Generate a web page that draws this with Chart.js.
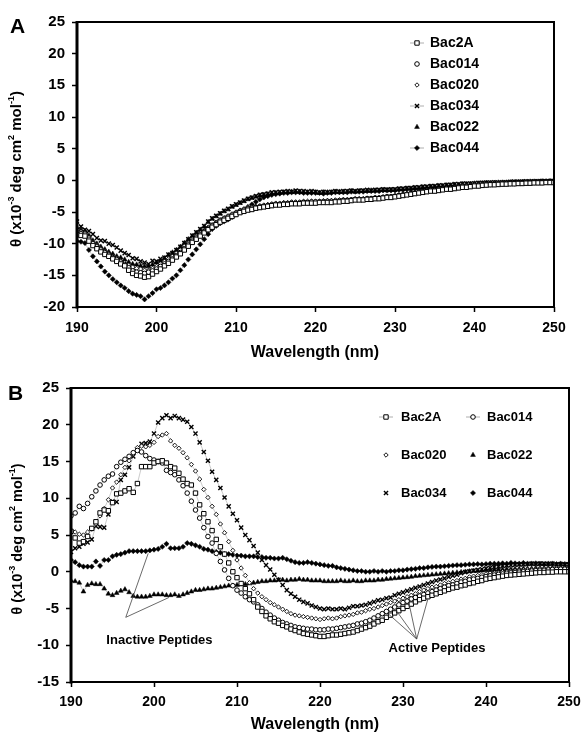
<!DOCTYPE html>
<html>
<head>
<meta charset="utf-8">
<script src="https://cdn.jsdelivr.net/npm/chart.js@4.4.1/dist/chart.umd.min.js"></script>
<style>
  body { margin: 0; background: #fff; }
  #wrap { position: relative; width: 582px; height: 732px; }
  canvas { position: absolute; left: 0; }
  #canvasA { top: 0; }
  #canvasB { top: 368px; }
</style>
</head>
<body>
<div id="wrap">
  <canvas id="canvasA" width="582" height="368"></canvas>
  <canvas id="canvasB" width="582" height="364"></canvas>
</div>
<script>
const FONT = "'Liberation Sans', Arial, Helvetica, sans-serif";

const wavelengths = [
  190, 190.5, 191, 191.5, 192, 192.5, 193, 193.5, 194, 194.5,
  195, 195.5, 196, 196.5, 197, 197.5, 198, 198.5, 199, 199.5,
  200, 200.5, 201, 201.5, 202, 202.5, 203, 203.5, 204, 204.5,
  205, 205.5, 206, 206.5, 207, 207.5, 208, 208.5, 209, 209.5,
  210, 210.5, 211, 211.5, 212, 212.5, 213, 213.5, 214, 214.5,
  215, 215.5, 216, 216.5, 217, 217.5, 218, 218.5, 219, 219.5,
  220, 220.5, 221, 221.5, 222, 222.5, 223, 223.5, 224, 224.5,
  225, 225.5, 226, 226.5, 227, 227.5, 228, 228.5, 229, 229.5,
  230, 230.5, 231, 231.5, 232, 232.5, 233, 233.5, 234, 234.5,
  235, 235.5, 236, 236.5, 237, 237.5, 238, 238.5, 239, 239.5,
  240, 240.5, 241, 241.5, 242, 242.5, 243, 243.5, 244, 244.5,
  245, 245.5, 246, 246.5, 247, 247.5, 248, 248.5, 249, 249.5,
  250
];

const xTicks = [190, 200, 210, 220, 230, 240, 250];
const yTicksA = [-20, -15, -10, -5, 0, 5, 10, 15, 20, 25];
const yTicksB = [-15, -10, -5, 0, 5, 10, 15, 20, 25];

const peptides = ["Bac2A", "Bac014", "Bac020", "Bac034", "Bac022", "Bac044"];

// panel A
const a2A = [
  -8.6, -8.7, -8.8, -9.6, -10.3, -10.8, -11.3, -11.7, -12.0, -12.4,
  -12.8, -13.2, -13.5, -14.2, -14.7, -15.0, -15.1, -15.3, -15.2, -14.8,
  -14.4, -14.0, -13.5, -13.1, -12.6, -12.1, -11.6, -11.0, -10.4, -9.8,
  -9.3, -8.8, -8.3, -7.8, -7.4, -7.0, -6.6, -6.3, -6.0, -5.7,
  -5.4, -5.1, -4.9, -4.7, -4.6, -4.4, -4.3, -4.2, -4.1, -4.0,
  -3.9, -3.9, -3.8, -3.8, -3.7, -3.7, -3.7, -3.6, -3.6, -3.6,
  -3.6, -3.5, -3.5, -3.5, -3.5, -3.4, -3.4, -3.3, -3.3, -3.2,
  -3.1, -3.1, -3.1, -3.0, -3.0, -2.9, -2.9, -2.8, -2.7, -2.7,
  -2.6, -2.5, -2.4, -2.3, -2.2, -2.1, -2.0, -1.9, -1.8, -1.7,
  -1.7, -1.6, -1.5, -1.4, -1.4, -1.3, -1.2, -1.1, -1.1, -1.0,
  -0.9, -0.9, -0.8, -0.75, -0.7, -0.7, -0.65, -0.6, -0.6, -0.55,
  -0.55, -0.5, -0.5, -0.45, -0.45, -0.4, -0.4, -0.4, -0.35, -0.35,
  -0.35
];
const a014 = [
  -8.3, -8.4, -8.5, -9.3, -10.0, -10.5, -11.0, -11.4, -11.8, -12.2,
  -12.5, -12.9, -13.3, -13.8, -14.3, -14.5, -14.6, -14.7, -14.5, -14.3,
  -14.0, -13.6, -13.2, -12.8, -12.4, -11.9, -11.4, -10.8, -10.2, -9.6,
  -9.1, -8.6, -8.1, -7.6, -7.2, -6.8, -6.4, -6.1, -5.8, -5.5,
  -5.2, -4.9, -4.7, -4.5, -4.4, -4.3, -4.2, -4.1, -4.0, -3.9,
  -3.8, -3.8, -3.7, -3.7, -3.6, -3.6, -3.6, -3.5, -3.5, -3.4,
  -3.4, -3.4, -3.4, -3.3, -3.3, -3.3, -3.2, -3.2, -3.2, -3.1,
  -3.0, -3.0, -3.0, -2.9, -2.9, -2.8, -2.8, -2.7, -2.6, -2.6,
  -2.5, -2.4, -2.3, -2.2, -2.1, -2.0, -1.9, -1.8, -1.7, -1.6,
  -1.6, -1.5, -1.4, -1.3, -1.3, -1.2, -1.1, -1.0, -1.0, -0.9,
  -0.8, -0.8, -0.7, -0.7, -0.65, -0.6, -0.55, -0.55, -0.5, -0.5,
  -0.5, -0.45, -0.45, -0.4, -0.4, -0.35, -0.35, -0.35, -0.3, -0.3,
  -0.3
];
const a020 = [
  -8.0, -8.1, -8.3, -9.0, -9.8, -10.3, -10.8, -11.2, -11.6, -12.0,
  -12.3, -12.7, -13.0, -13.4, -13.7, -13.9, -14.0, -14.2, -14.2, -13.9,
  -13.6, -13.2, -12.8, -12.4, -12.0, -11.5, -11.0, -10.4, -9.9, -9.3,
  -8.8, -8.3, -7.9, -7.4, -7.0, -6.6, -6.2, -5.9, -5.6, -5.3,
  -5.0, -4.7, -4.5, -4.3, -4.2, -4.1, -4.0, -3.9, -3.8, -3.7,
  -3.6, -3.6, -3.5, -3.5, -3.4, -3.4, -3.4, -3.3, -3.3, -3.3,
  -3.3, -3.3, -3.2, -3.2, -3.2, -3.1, -3.1, -3.0, -3.0, -3.0,
  -2.9, -2.9, -2.9, -2.8, -2.8, -2.7, -2.7, -2.6, -2.5, -2.5,
  -2.4, -2.3, -2.2, -2.1, -2.0, -1.9, -1.8, -1.7, -1.6, -1.5,
  -1.5, -1.4, -1.3, -1.2, -1.2, -1.1, -1.0, -0.9, -0.9, -0.8,
  -0.7, -0.7, -0.65, -0.6, -0.55, -0.5, -0.5, -0.45, -0.45, -0.4,
  -0.4, -0.4, -0.4, -0.35, -0.35, -0.3, -0.3, -0.3, -0.25, -0.25,
  -0.25
];
const a034 = [
  -6.5, -7.3, -7.8, -8.0, -8.5, -9.1, -9.5, -9.6, -10.0, -10.2,
  -10.6, -11.1, -11.5, -11.8, -12.3, -12.4, -12.8, -13.0, -13.2, -12.7,
  -12.8, -12.4, -12.2, -11.7, -11.5, -11.0, -10.5, -9.9, -9.3, -8.7,
  -8.2, -7.7, -7.2, -6.5, -6.0, -5.6, -5.2, -4.8, -4.5, -4.1,
  -3.8, -3.5, -3.2, -2.9, -2.7, -2.5, -2.3, -2.2, -2.1, -1.9,
  -1.9, -1.8, -1.8, -1.7, -1.8, -1.6, -1.7, -1.7, -1.8, -1.7,
  -1.8, -1.9, -1.8, -1.9, -1.8, -1.7, -1.8, -1.7, -1.7, -1.6,
  -1.7, -1.6, -1.6, -1.5, -1.6, -1.5, -1.5, -1.4, -1.5, -1.4,
  -1.4, -1.3, -1.3, -1.2, -1.2, -1.1, -1.1, -1.0, -1.0, -0.9,
  -0.9, -0.8, -0.8, -0.7, -0.7, -0.6, -0.6, -0.5, -0.5, -0.5,
  -0.45, -0.4, -0.4, -0.35, -0.35, -0.3, -0.35, -0.3, -0.3, -0.25,
  -0.2, -0.25, -0.2, -0.15, -0.2, -0.15, -0.15, -0.1, -0.15, -0.1,
  -0.1
];
const a022 = [
  -7.5, -7.8, -8.0, -8.7, -9.5, -10.0, -10.5, -10.9, -11.3, -11.6,
  -12.0, -12.2, -12.5, -12.9, -13.2, -13.3, -13.5, -13.6, -13.6, -13.3,
  -13.0, -12.7, -12.3, -11.8, -11.4, -11.0, -10.5, -9.9, -9.3, -8.8,
  -8.3, -7.8, -7.3, -6.6, -6.1, -5.7, -5.3, -4.9, -4.6, -4.2,
  -3.9, -3.6, -3.3, -3.0, -2.8, -2.6, -2.4, -2.3, -2.2, -2.1,
  -2.0, -2.0, -1.9, -1.9, -1.8, -1.8, -1.8, -1.9, -1.9, -1.9,
  -1.9, -2.0, -1.9, -1.9, -1.9, -1.8, -1.8, -1.8, -1.8, -1.7,
  -1.8, -1.7, -1.7, -1.7, -1.6, -1.6, -1.6, -1.5, -1.5, -1.5,
  -1.5, -1.4, -1.4, -1.3, -1.3, -1.2, -1.2, -1.1, -1.1, -1.0,
  -1.0, -0.9, -0.9, -0.8, -0.8, -0.7, -0.7, -0.6, -0.6, -0.55,
  -0.5, -0.5, -0.45, -0.4, -0.4, -0.4, -0.35, -0.35, -0.35, -0.3,
  -0.3, -0.25, -0.25, -0.25, -0.2, -0.2, -0.2, -0.15, -0.15, -0.1,
  -0.1
];
const a044 = [
  -9.6, -9.7, -9.9, -11.0, -12.0, -12.8, -13.6, -14.4, -15.0, -15.6,
  -16.1, -16.6, -17.0, -17.5, -17.9, -18.1, -18.3, -18.8, -18.3, -17.8,
  -17.2, -17.0, -16.6, -16.1, -15.5, -15.0, -14.2, -13.4, -12.5, -11.7,
  -10.9, -10.1, -9.3, -8.5, -7.7, -7.2, -6.8, -6.5, -6.2, -5.8,
  -5.4, -5.0, -4.6, -4.2, -3.8, -3.4, -3.0, -2.7, -2.5, -2.3,
  -2.2, -2.1, -2.0, -2.0, -1.9, -1.9, -1.9, -2.0, -2.0, -2.0,
  -2.0, -2.0, -2.1, -2.0, -2.0, -1.9, -1.9, -1.9, -1.9, -1.8,
  -1.8, -1.8, -1.8, -1.7, -1.7, -1.7, -1.7, -1.6, -1.6, -1.6,
  -1.6, -1.5, -1.5, -1.4, -1.4, -1.3, -1.3, -1.2, -1.2, -1.1,
  -1.1, -1.0, -1.0, -0.9, -0.9, -0.8, -0.8, -0.7, -0.7, -0.65,
  -0.6, -0.55, -0.55, -0.5, -0.5, -0.45, -0.45, -0.4, -0.4, -0.4,
  -0.35, -0.35, -0.3, -0.3, -0.25, -0.25, -0.25, -0.2, -0.2, -0.2,
  -0.15
];

// panel B
const b2A = [
  5.5, 4.6, 3.9, 4.1, 4.8, 5.9, 6.8, 8.0, 8.4, 8.3,
  9.4, 10.6, 10.7, 11.0, 11.3, 10.8, 12.0, 14.3, 14.3, 14.3,
  14.8, 15.0, 15.1, 14.8, 14.3, 14.1, 13.4, 12.6, 12.0, 11.8,
  10.7, 9.1, 7.9, 6.8, 5.6, 4.4, 3.4, 2.4, 1.2, 0.0,
  -0.8, -1.6, -2.3, -3.0, -3.8, -4.8, -5.4, -6.0, -6.4, -6.8,
  -7.0, -7.3, -7.5, -7.8, -8.0, -8.2, -8.4, -8.5, -8.6, -8.7,
  -8.8, -8.8, -8.7, -8.6, -8.6, -8.5, -8.4, -8.3, -8.2, -8.0,
  -7.8, -7.6, -7.4, -7.1, -6.8, -6.6, -6.2, -5.9, -5.6, -5.3,
  -5.0, -4.7, -4.4, -4.1, -3.8, -3.6, -3.4, -3.2, -3.0, -2.8,
  -2.6, -2.4, -2.2, -2.1, -1.9, -1.8, -1.6, -1.5, -1.3, -1.2,
  -1.0, -0.9, -0.8, -0.7, -0.6, -0.5, -0.45, -0.4, -0.35, -0.3,
  -0.25, -0.2, -0.15, -0.1, -0.1, -0.05, -0.05, 0.0, 0.0, 0.0,
  0.0
];
const b014 = [
  7.6, 8.0, 8.9, 8.6, 9.3, 10.2, 11.0, 11.8, 12.5, 13.0,
  13.3, 14.3, 14.9, 15.3, 15.7, 16.2, 16.5, 16.3, 15.8, 15.4,
  15.2, 15.0, 14.8, 13.8, 13.5, 13.2, 12.5, 11.7, 10.7, 9.6,
  8.4, 7.3, 6.0, 4.8, 3.9, 2.5, 1.4, 0.25, -0.9, -1.9,
  -2.5, -2.9, -3.4, -3.8, -4.1, -4.5, -5.0, -5.5, -5.9, -6.3,
  -6.6, -6.9, -7.1, -7.3, -7.5, -7.6, -7.7, -7.8, -7.8, -7.9,
  -7.9, -7.9, -7.8, -7.8, -7.7, -7.6, -7.5, -7.4, -7.3, -7.1,
  -7.0, -6.8, -6.6, -6.3, -6.0, -5.7, -5.4, -5.1, -4.8, -4.5,
  -4.2, -4.0, -3.7, -3.5, -3.3, -3.1, -2.9, -2.7, -2.5, -2.3,
  -2.1, -1.9, -1.8, -1.6, -1.4, -1.3, -1.1, -1.0, -0.9, -0.75,
  -0.65, -0.55, -0.45, -0.35, -0.3, -0.2, -0.15, -0.1, -0.05, 0.0,
  0.05, 0.1, 0.15, 0.2, 0.2, 0.25, 0.3, 0.3, 0.35, 0.35,
  0.4
];
const b020 = [
  5.6, 5.4, 5.1, 5.0, 5.4, 5.8, 6.5, 7.6, 8.6, 9.8,
  11.4, 12.2, 13.2, 14.2, 15.1, 16.0, 16.9, 17.1, 17.0, 17.2,
  17.6, 18.4, 18.6, 18.8, 17.8, 17.2, 16.8, 16.2, 15.5, 14.6,
  13.7, 12.6, 11.2, 10.1, 8.9, 7.8, 6.5, 5.3, 4.1, 2.9,
  1.6, 0.5, -0.5, -1.5, -2.3, -2.9, -3.4, -3.8, -4.2, -4.5,
  -4.8, -5.1, -5.4, -5.7, -5.9, -6.0, -6.1, -6.2, -6.3, -6.4,
  -6.5, -6.4, -6.3, -6.4, -6.3, -6.1, -6.0, -5.9, -5.8, -5.6,
  -5.5, -5.3, -5.1, -5.0, -4.8, -4.6, -4.4, -4.2, -4.0, -3.8,
  -3.6, -3.4, -3.2, -3.0, -2.7, -2.5, -2.3, -2.1, -2.0, -1.8,
  -1.6, -1.5, -1.3, -1.2, -1.0, -0.9, -0.7, -0.6, -0.5, -0.4,
  -0.3, -0.2, -0.15, -0.1, 0.0, 0.05, 0.1, 0.15, 0.2, 0.25,
  0.3, 0.3, 0.35, 0.4, 0.4, 0.45, 0.45, 0.5, 0.5, 0.5,
  0.5
];
const b034 = [
  2.7, 3.2, 3.4, 3.8, 4.0, 4.4, 6.2, 6.1, 6.0, 7.8,
  9.6, 9.5, 12.5, 13.2, 14.2, 15.7, 16.6, 17.4, 17.5, 17.7,
  18.8, 20.3, 20.9, 21.3, 20.9, 21.2, 20.9, 20.7, 20.4, 19.7,
  18.8, 17.6, 16.3, 15.1, 13.6, 12.5, 11.4, 10.1, 8.9, 7.9,
  7.0, 6.0, 5.0, 4.3, 3.5, 2.6, 1.6, 0.9, 0.3, -0.4,
  -1.1, -1.8, -2.5, -3.0, -3.4, -3.8, -4.1, -4.3, -4.6, -4.8,
  -5.0, -5.1, -5.0, -5.1, -5.1, -5.0, -5.1, -4.9, -4.7, -4.7,
  -4.6, -4.5, -4.3, -4.1, -3.9, -3.8, -3.6, -3.5, -3.2, -3.0,
  -2.8, -2.6, -2.4, -2.2, -2.0, -1.8, -1.6, -1.4, -1.2, -1.05,
  -0.9, -0.7, -0.55, -0.4, -0.2, -0.05, 0.05, 0.15, 0.25, 0.35,
  0.45, 0.55, 0.65, 0.7, 0.8, 0.85, 0.9, 0.95, 1.0, 1.0,
  1.05, 1.1, 1.05, 1.1, 1.1, 1.05, 1.1, 1.0, 1.05, 1.0,
  1.0
];
const b022 = [
  -1.2, -1.3, -1.5, -2.7, -1.8, -1.6, -1.7, -1.7, -2.3, -3.0,
  -3.2, -2.9, -2.6, -2.4, -2.8, -3.3, -3.4, -3.4, -3.4, -3.3,
  -3.1, -3.1, -3.1, -3.2, -3.2, -3.1, -3.3, -3.1, -2.9, -2.7,
  -2.5, -2.5, -2.4, -2.3, -2.3, -2.2, -2.1, -2.0, -1.9, -1.9,
  -1.8, -1.7, -1.7, -1.6, -1.5, -1.4, -1.3, -1.3, -1.2, -1.2,
  -1.1, -1.1, -1.2, -1.1, -1.1, -1.0, -1.1, -1.1, -1.2, -1.2,
  -1.2, -1.3, -1.3, -1.3, -1.3, -1.2, -1.3, -1.3, -1.2, -1.3,
  -1.3, -1.2, -1.2, -1.2, -1.1, -1.1, -1.0, -0.95, -0.9, -0.85,
  -0.8, -0.75, -0.7, -0.6, -0.55, -0.5, -0.45, -0.4, -0.35, -0.3,
  -0.25, -0.2, -0.15, -0.1, -0.05, 0.0, 0.05, 0.1, 0.1, 0.15,
  0.2, 0.2, 0.25, 0.3, 0.3, 0.35, 0.35, 0.4, 0.4, 0.45,
  0.45, 0.45, 0.5, 0.5, 0.5, 0.5, 0.55, 0.5, 0.55, 0.5,
  0.5
];
const b044 = [
  1.6, 1.3, 0.9, 0.7, 0.7, 0.7, 1.4, 0.8, 1.6, 1.6,
  2.1, 2.3, 2.4, 2.6, 2.8, 2.8, 2.8, 2.8, 2.8, 2.9,
  3.0, 3.1, 3.4, 3.8, 3.2, 3.2, 3.2, 3.4, 3.9, 3.8,
  3.6, 3.4, 3.1, 3.0, 2.8, 2.7, 2.6, 2.4, 2.4, 2.3,
  2.2, 2.2, 2.1, 2.1, 2.1, 2.0, 2.0, 1.9, 1.9, 1.8,
  1.8, 1.9, 1.7, 1.5, 1.3, 1.2, 1.2, 1.3, 1.2, 1.1,
  1.0, 0.9, 0.8, 0.8, 0.6, 0.5, 0.4, 0.3, 0.2, 0.1,
  0.1, 0.0, 0.0, 0.1, 0.0, 0.1, 0.0, 0.1, 0.1, 0.2,
  0.2, 0.3, 0.35, 0.4, 0.5, 0.5, 0.6, 0.65, 0.7, 0.7,
  0.75, 0.8, 0.85, 0.9, 0.9, 0.95, 1.0, 1.0, 1.05, 1.0,
  1.05, 1.1, 1.1, 1.1, 1.15, 1.1, 1.2, 1.15, 1.1, 1.2,
  1.1, 1.1, 1.15, 1.1, 1.05, 1.1, 1.1, 1.05, 1.1, 1.05,
  1.1
];

const seriesA = [a2A, a014, a020, a034, a022, a044];
const seriesB = [b2A, b014, b020, b034, b022, b044];

const markers = {
  Bac2A: { shape: "rect", r: 3.1, bg: "#fff", bw: 1 },
  Bac014: { shape: "circle", r: 2.3, bg: "#fff", bw: 1 },
  Bac020: { shape: "rectRot", r: 2.2, bg: "#fff", bw: 0.9 },
  Bac034: { shape: "crossRot", r: 2.9, bg: "#000", bw: 1.4 },
  Bac022: { shape: "triangle", r: 2.8, bg: "#000", bw: 0.5 },
  Bac044: { shape: "rectRot", r: 2.6, bg: "#000", bw: 0.5 }
};

function drawMarker(ctx, name, x, y) {
  const m = markers[name];
  const r = m.r;
  ctx.save();
  ctx.lineWidth = m.bw;
  ctx.strokeStyle = "#000";
  ctx.fillStyle = m.bg;
  ctx.beginPath();
  if (m.shape === "rect") {
    const s = r * Math.SQRT1_2;
    ctx.rect(x - s, y - s, 2 * s, 2 * s);
    ctx.fill(); ctx.stroke();
  } else if (m.shape === "circle") {
    ctx.arc(x, y, r, 0, Math.PI * 2);
    ctx.fill(); ctx.stroke();
  } else if (m.shape === "rectRot") {
    ctx.moveTo(x, y - r); ctx.lineTo(x + r, y); ctx.lineTo(x, y + r); ctx.lineTo(x - r, y);
    ctx.closePath();
    ctx.fill(); ctx.stroke();
  } else if (m.shape === "triangle") {
    ctx.moveTo(x, y - r);
    ctx.lineTo(x + r * 0.866, y + r * 0.5);
    ctx.lineTo(x - r * 0.866, y + r * 0.5);
    ctx.closePath();
    ctx.fill(); ctx.stroke();
  } else {
    const d = r * Math.SQRT1_2;
    ctx.moveTo(x - d, y - d); ctx.lineTo(x + d, y + d);
    ctx.moveTo(x + d, y - d); ctx.lineTo(x - d, y + d);
    ctx.stroke();
  }
  ctx.restore();
}

function drawYTitle(ctx, cx, cy, size) {
  const parts = [["θ (x10", false], ["-3", true], [" deg cm", false], ["2", true], [" mol", false], ["-1", true], [")", false]];
  const big = "bold " + size + "px " + FONT;
  const small = "bold " + Math.round(size * 0.62) + "px " + FONT;
  let total = 0;
  parts.forEach(p => { ctx.font = p[1] ? small : big; total += ctx.measureText(p[0]).width; });
  ctx.save();
  ctx.translate(cx, cy);
  ctx.rotate(-Math.PI / 2);
  ctx.textAlign = "left";
  ctx.textBaseline = "middle";
  let x = -total / 2;
  parts.forEach(p => {
    ctx.font = p[1] ? small : big;
    ctx.fillText(p[0], x, p[1] ? -size * 0.38 : 0);
    x += ctx.measureText(p[0]).width;
  });
  ctx.restore();
}

const decor = {
  id: "decor",
  afterDraw(chart, args, o) {
    const ctx = chart.ctx;
    const area = chart.chartArea;
    const sx = chart.scales.x, sy = chart.scales.y;
    ctx.save();
    ctx.strokeStyle = "#000";
    ctx.lineWidth = 2;
    ctx.strokeRect(area.left, area.top, area.right - area.left, area.bottom - area.top);
    ctx.lineWidth = 3;
    ctx.beginPath();
    ctx.moveTo(area.left, area.top - 1);
    ctx.lineTo(area.left, area.bottom + 1.5);
    ctx.stroke();

    ctx.fillStyle = "#000";
    ctx.textAlign = "left";
    ctx.textBaseline = "alphabetic";
    ctx.font = "bold 21px " + FONT;
    ctx.fillText(o.letter, o.letterX, o.letterY);

    ctx.textAlign = "center";
    ctx.font = "bold 16px " + FONT;
    ctx.fillText("Wavelength (nm)", o.xTitleX, o.xTitleY);

    drawYTitle(ctx, o.yTitleX, o.yTitleY, o.yTitleSize);

    ctx.font = "bold " + o.legendSize + "px " + FONT;
    ctx.textAlign = "left";
    ctx.textBaseline = "middle";
    o.legend.forEach(item => {
      if (item.line) {
        ctx.strokeStyle = "#999";
        ctx.lineWidth = 0.8;
        ctx.beginPath();
        ctx.moveTo(item.mx - 7, item.y);
        ctx.lineTo(item.mx + 7, item.y);
        ctx.stroke();
      }
      drawMarker(ctx, item.name, item.mx, item.y);
      ctx.fillStyle = "#000";
      ctx.fillText(item.name, item.tx, item.y);
    });

    if (o.notes) {
      ctx.strokeStyle = "#444";
      ctx.lineWidth = 0.8;
      o.notes.lines.forEach(l => {
        ctx.beginPath();
        ctx.moveTo(sx.getPixelForValue(l[0]), sy.getPixelForValue(l[1]));
        ctx.lineTo(sx.getPixelForValue(l[2]), sy.getPixelForValue(l[3]));
        ctx.stroke();
      });
      ctx.fillStyle = "#000";
      ctx.font = "bold 13px " + FONT;
      ctx.textAlign = "center";
      o.notes.labels.forEach(t => {
        ctx.fillText(t[0], sx.getPixelForValue(t[1]), sy.getPixelForValue(t[2]));
      });
    }
    ctx.restore();
  }
};

function makeDatasets(series) {
  return peptides.map((name, i) => {
    const m = markers[name];
    return {
      label: name,
      data: series[i],
      borderColor: "#a8a8a8",
      borderWidth: 0.6,
      pointStyle: m.shape,
      pointRadius: m.r,
      pointHoverRadius: m.r,
      pointBackgroundColor: m.bg,
      pointBorderColor: "#000",
      pointBorderWidth: m.bw,
      tension: 0,
      fill: false
    };
  });
}

function makeChart(id, series, yTicks, box, decorOptions) {
  const tickFont = { family: FONT, size: 14, weight: "bold" };
  return new Chart(document.getElementById(id), {
    type: "line",
    data: { labels: wavelengths, datasets: makeDatasets(series) },
    options: {
      responsive: false,
      animation: false,
      events: [],
      layout: { padding: { left: 0, top: box.top, right: box.right, bottom: 0 } },
      plugins: { legend: { display: false }, tooltip: { enabled: false }, decor: decorOptions },
      scales: {
        x: {
          type: "linear",
          min: 190,
          max: 250,
          afterBuildTicks: s => { s.ticks = xTicks.map(v => ({ value: v })); },
          afterFit: s => { s.height = box.xHeight; s.paddingLeft = 0; s.paddingRight = 0; },
          ticks: { font: tickFont, color: "#000", padding: box.xPad, maxRotation: 0 },
          grid: { display: true, drawOnChartArea: false, drawTicks: true, tickLength: 5, tickWidth: 1.5, tickColor: "#000" },
          border: { display: false }
        },
        y: {
          min: yTicks[0],
          max: yTicks[yTicks.length - 1],
          afterBuildTicks: s => { s.ticks = yTicks.map(v => ({ value: v })); },
          afterFit: s => { s.width = box.yWidth; s.paddingTop = 0; s.paddingBottom = 0; },
          ticks: { font: { family: FONT, size: 15, weight: "bold" }, color: "#000", padding: 7 },
          grid: { display: true, drawOnChartArea: false, drawTicks: true, tickLength: 5, tickWidth: 1.5, tickColor: "#000" },
          border: { display: false }
        }
      }
    },
    plugins: [decor]
  });
}

makeChart("canvasA", seriesA, yTicksA,
  { top: 22, right: 28, xHeight: 61, yWidth: 77, xPad: 8 },
  {
    letter: "A", letterX: 10, letterY: 33,
    xTitleX: 315, xTitleY: 357,
    yTitleX: 17, yTitleY: 169, yTitleSize: 15,
    legendSize: 14,
    legend: [
      { name: "Bac2A", mx: 417, tx: 430, y: 43, line: true },
      { name: "Bac014", mx: 417, tx: 430, y: 64, line: false },
      { name: "Bac020", mx: 417, tx: 430, y: 85, line: false },
      { name: "Bac034", mx: 417, tx: 430, y: 106, line: true },
      { name: "Bac022", mx: 417, tx: 430, y: 127, line: false },
      { name: "Bac044", mx: 417, tx: 430, y: 148, line: true }
    ]
  });

makeChart("canvasB", seriesB, yTicksB,
  { top: 20, right: 13, xHeight: 50, yWidth: 71, xPad: 7 },
  {
    letter: "B", letterX: 8, letterY: 32,
    xTitleX: 315, xTitleY: 361,
    yTitleX: 18, yTitleY: 171, yTitleSize: 14.5,
    legendSize: 13,
    legend: [
      { name: "Bac2A", mx: 386, tx: 401, y: 49, line: true },
      { name: "Bac014", mx: 473, tx: 487, y: 49, line: true },
      { name: "Bac020", mx: 386, tx: 401, y: 87, line: false },
      { name: "Bac022", mx: 473, tx: 487, y: 87, line: false },
      { name: "Bac034", mx: 386, tx: 401, y: 125, line: false },
      { name: "Bac044", mx: 473, tx: 487, y: 125, line: false }
    ],
    notes: {
      lines: [
        [196.6, -6.2, 199.3, 2.5],
        [196.6, -6.2, 201.8, -3.5],
        [231.65, -9.15, 228.3, -5.8],
        [231.65, -9.15, 229.2, -5.3],
        [231.65, -9.15, 230.8, -4.7],
        [231.65, -9.15, 233.0, -3.7]
      ],
      labels: [
        ["Inactive Peptides", 200.66, -9.3],
        ["Active Peptides", 234.1, -10.44]
      ]
    }
  });
</script>
</body>
</html>
